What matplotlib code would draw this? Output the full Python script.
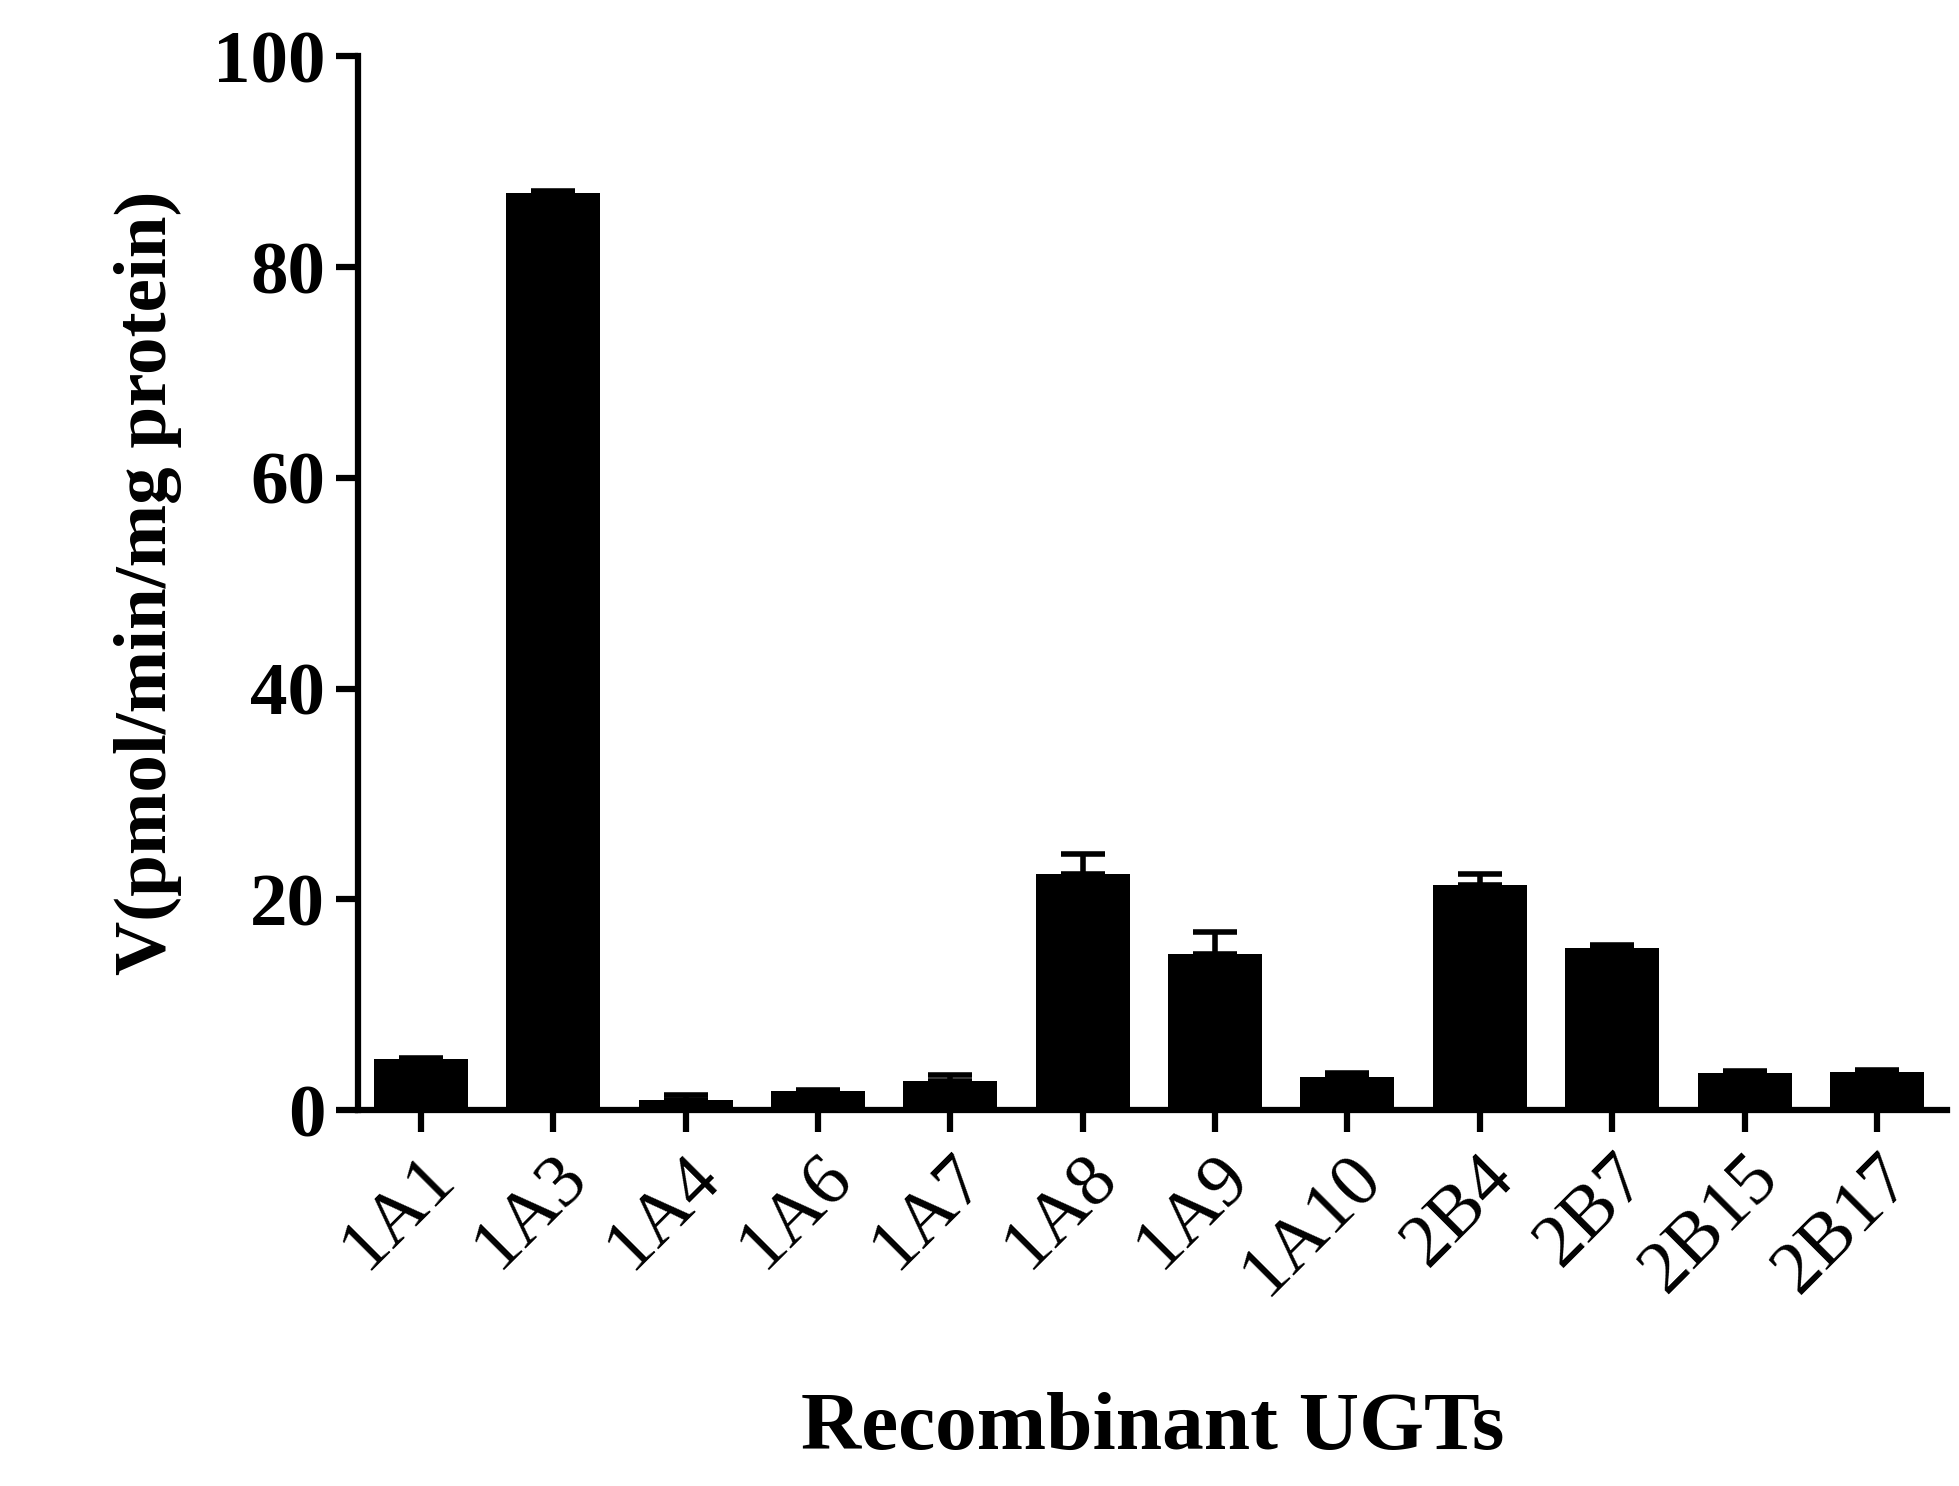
import numpy as np
import matplotlib
matplotlib.use("Agg")
import matplotlib.pyplot as plt

labels = ["1A1", "1A3", "1A4", "1A6", "1A7", "1A8", "1A9", "1A10", "2B4", "2B7", "2B15", "2B17"]
values = [4.8, 87.0, 1.0, 1.8, 2.8, 22.4, 14.8, 3.1, 21.4, 15.4, 3.5, 3.6]
errors = [0.1, 0.2, 0.4, 0.1, 0.5, 1.9, 2.1, 0.4, 1.0, 0.3, 0.2, 0.2]

plt.rcParams["font.family"] = ["Liberation Serif", "DejaVu Serif"]

fig = plt.figure(figsize=(19.59, 14.86), dpi=100)
ax = fig.add_axes([0.183, 0.253, 0.811, 0.709])

x = np.arange(len(labels))
ax.errorbar(x, values, yerr=[np.zeros(len(errors)), errors], fmt="none",
            ecolor="black", elinewidth=4, capsize=16, capthick=4, zorder=1)
ax.bar(x, values, width=0.71, color="black", zorder=2)

ax.set_xlim(-0.47, 11.53)
ax.set_ylim(0, 100)
ax.set_yticks([0, 20, 40, 60, 80, 100])
ax.set_xticks(x)
ax.set_xticklabels(labels, rotation=45, ha="right", rotation_mode="anchor", fontsize=54)
for t in ax.get_yticklabels():
    t.set_fontsize(54)
    t.set_fontweight("bold")

for s in ["top", "right"]:
    ax.spines[s].set_visible(False)
for s in ["left", "bottom"]:
    ax.spines[s].set_linewidth(4.5)
ax.tick_params(axis="both", width=4.5, length=16, pad=8)

ax.set_ylabel("V(pmol/min/mg protein)", fontsize=54, fontweight="bold", labelpad=22)
ax.set_xlabel("Recombinant UGTs", fontsize=60, fontweight="bold", labelpad=60)

fig.savefig("out.png", dpi=100)
